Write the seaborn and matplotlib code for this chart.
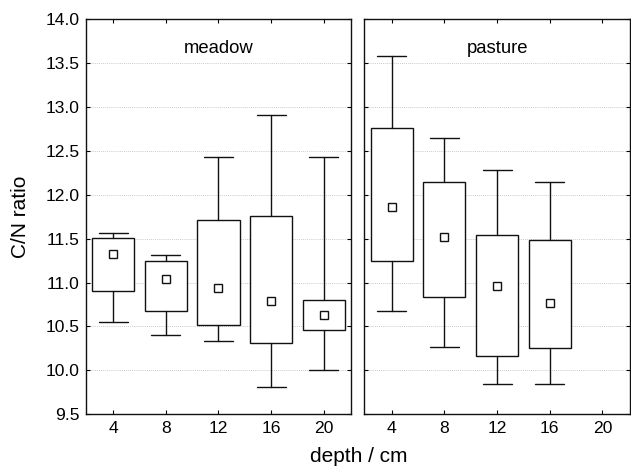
import numpy as np
import pandas as pd
import seaborn as sns
import matplotlib
matplotlib.use("Agg")
import matplotlib.pyplot as plt

# data (C/N ratio per depth)
depths = [4, 8, 12, 16, 20]

meadow_whislo = [10.55, 10.40, 10.33, 9.81, 10.00]
meadow_q1 = [10.90, 10.68, 10.52, 10.31, 10.46]
meadow_mean = [11.32, 11.04, 10.94, 10.79, 10.635]
meadow_q3 = [11.51, 11.25, 11.71, 11.76, 10.80]
meadow_whishi = [11.565, 11.315, 12.43, 12.91, 12.43]

pasture_depths = [4, 8, 12, 16]
pasture_whislo = [10.67, 10.27, 9.84, 9.84]
pasture_q1 = [11.25, 10.84, 10.16, 10.25]
pasture_mean = [11.86, 11.52, 10.96, 10.77]
pasture_q3 = [12.76, 12.14, 11.54, 11.49]
pasture_whishi = [13.58, 12.65, 12.28, 12.14]

yticks = [9.5, 10.0, 10.5, 11.0, 11.5, 12.0, 12.5, 13.0, 13.5, 14.0]

tabela = pd.concat([
    pd.DataFrame({"site": "meadow", "depth": depths, "whislo": meadow_whislo,
                  "q1": meadow_q1, "mean": meadow_mean, "q3": meadow_q3,
                  "whishi": meadow_whishi}),
    pd.DataFrame({"site": "pasture", "depth": pasture_depths, "whislo": pasture_whislo,
                  "q1": pasture_q1, "mean": pasture_mean, "q3": pasture_q3,
                  "whishi": pasture_whishi}),
], ignore_index=True)

sns.set_style("ticks", {"xtick.direction": "in", "ytick.direction": "in",
                        "text.color": "black", "xtick.color": "black",
                        "ytick.color": "black", "axes.labelcolor": "black"})
plt.rcParams["font.family"] = ["Liberation Sans", "DejaVu Sans"]


def desenha_caixas(data, **kws):
    ax = plt.gca()
    stats = []
    pos = []
    for _, r in data.iterrows():
        stats.append({"whislo": r["whislo"], "q1": r["q1"], "med": r["mean"],
                      "q3": r["q3"], "whishi": r["whishi"], "mean": r["mean"],
                      "fliers": []})
        pos.append(depths.index(r["depth"]))
    ax.bxp(stats, positions=pos, widths=0.8, capwidths=0.55,
           showmeans=True, showfliers=False, patch_artist=True,
           boxprops=dict(facecolor="white", edgecolor="#111111", linewidth=1.0),
           whiskerprops=dict(color="#111111", linewidth=1.0),
           capprops=dict(color="#111111", linewidth=1.0),
           medianprops=dict(linewidth=0),
           meanprops=dict(marker="s", markerfacecolor="white",
                          markeredgecolor="#111111", markersize=5.2,
                          markeredgewidth=1.0),
           zorder=3)


g = sns.FacetGrid(tabela, col="site", col_order=["meadow", "pasture"],
                  sharex=True, sharey=True, despine=False)
g.map_dataframe(desenha_caixas)

fig = g.figure
fig.set_size_inches(6.31, 4.68)
fig.subplots_adjust(left=0.136, right=0.998, top=0.959, bottom=0.115, wspace=0.05)

for ax, nome in zip(g.axes.flat, ["meadow", "pasture"]):
    ax.set_title("")
    ax.set_xlim(-0.52, 4.52)
    ax.set_ylim(9.5, 14.0)
    ax.set_xticks(range(len(depths)))
    ax.set_xticklabels([str(d) for d in depths], fontsize=12.6)
    ax.set_yticks(yticks)
    ax.set_yticklabels([f"{v:.1f}" for v in yticks], fontsize=12.6)
    ax.yaxis.grid(True, linestyle=(0, (1, 1.5)), color="#b8b8b8", linewidth=0.6)
    ax.set_axisbelow(True)
    ax.tick_params(top=True, right=True, length=3, width=0.8, color="black",
                   labelcolor="black")
    ax.tick_params(axis="x", pad=5)
    ax.tick_params(axis="y", pad=4.5)
    for s in ax.spines.values():
        s.set_color("#111111")
        s.set_linewidth(1.0)
    ax.set_xlabel("")
    ax.set_ylabel("")
    ax.text(0.5, 0.927, nome, transform=ax.transAxes, ha="center", va="center",
            fontsize=13.3, color="black")

g.axes.flat[1].tick_params(labelleft=False)
fig.text(0.033, 0.537, "C/N ratio", rotation=90, ha="center", va="center",
         fontsize=15, color="black")
fig.text(0.568, 0.024, "depth / cm", ha="center", va="center", fontsize=15,
         color="black")

fig.savefig("out.png", dpi=100)
